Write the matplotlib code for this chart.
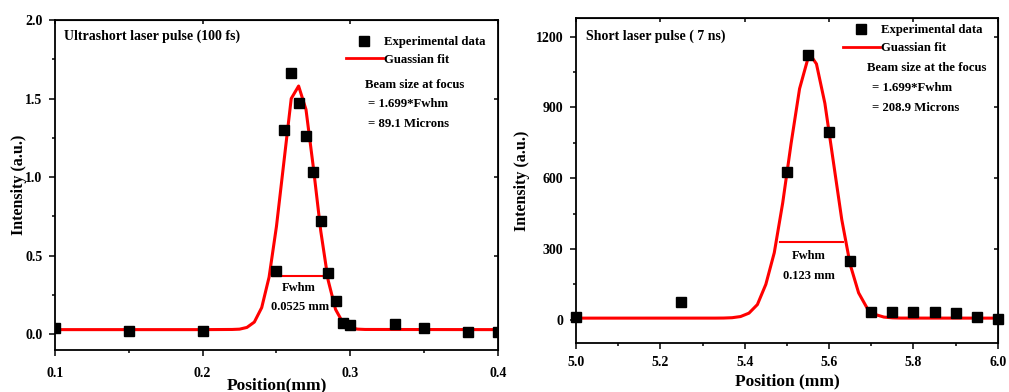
import matplotlib
matplotlib.use("Agg")
import matplotlib.pyplot as plt
from matplotlib.ticker import MultipleLocator
from matplotlib.lines import Line2D

# ---- data: ultrashort pulse (100 fs)
fs_x = [0.1, 0.15, 0.2, 0.25, 0.255, 0.26, 0.265, 0.27, 0.275, 0.28, 0.285,
        0.29, 0.295, 0.3, 0.33, 0.35, 0.38, 0.4]
fs_y = [0.04, 0.02, 0.02, 0.405, 1.30, 1.665, 1.475, 1.26, 1.035, 0.72, 0.39,
        0.21, 0.07, 0.06, 0.066, 0.038, 0.018, 0.013]
fs_fit_x = [0.1, 0.2, 0.22, 0.225, 0.23, 0.235, 0.24, 0.245, 0.25, 0.255, 0.26,
            0.265, 0.27, 0.275, 0.28, 0.285, 0.29, 0.295, 0.3, 0.305, 0.31, 0.4]
fs_fit_y = [0.03, 0.03, 0.031, 0.033, 0.044, 0.078, 0.17, 0.364, 0.687, 1.094,
            1.50, 1.58, 1.43, 1.061, 0.657, 0.344, 0.159, 0.074, 0.042, 0.033,
            0.031, 0.03]
fs_fwhm_x = [0.2478, 0.2811]
fs_fwhm_y = 0.368

# ---- data: short pulse (7 ns)
ns_x = [5.0, 5.25, 5.5, 5.55, 5.6, 5.65, 5.7, 5.75, 5.8, 5.85, 5.9, 5.95, 6.0]
ns_y = [10, 76, 627, 1122, 794, 249, 34, 31, 34, 34, 27, 10, 3]
ns_fit_x = [5.0, 5.33, 5.35, 5.37, 5.39, 5.41, 5.43, 5.45, 5.47, 5.49, 5.51,
            5.53, 5.55, 5.557, 5.57, 5.59, 5.61, 5.63, 5.65, 5.67, 5.69, 5.71,
            5.73, 5.75, 5.77, 6.0]
ns_fit_y = [7, 7.1, 7.4, 8.8, 13.7, 28.1, 64.5, 150, 284, 495, 748, 979, 1108,
            1118, 1084, 917, 671, 425, 234, 114, 50, 22, 11.5, 8.2, 7.2, 7]
ns_fwhm_x = [5.483, 5.632]
ns_fwhm_y = 330

plt.rcParams['font.family'] = ['Liberation Serif', 'DejaVu Serif']
plt.rcParams['font.weight'] = 'bold'
plt.rcParams['axes.labelweight'] = 'bold'

fig = plt.figure(figsize=(10.09, 3.92), dpi=100)
ax1 = fig.add_axes([0.0545, 0.107, 0.439, 0.842])
ax2 = fig.add_axes([0.5709, 0.124, 0.418, 0.831])


def style(ax):
    for s in ax.spines.values():
        s.set_linewidth(1.3)
    ax.tick_params(which='both', direction='out', top=False, right=False,
                   labelsize=10, width=1.1)
    ax.tick_params(which='major', length=4, pad=5)
    ax.tick_params(which='minor', length=2.5)


# left panel
ax1.plot(fs_fit_x, fs_fit_y, color='red', lw=2.2, zorder=2)
ax1.plot(fs_x, fs_y, 's', color='black', ms=7, zorder=3)
ax1.plot(fs_fwhm_x, [fs_fwhm_y, fs_fwhm_y], color='red', lw=1.5)
ax1.set_xlim(0.1, 0.4)
ax1.set_ylim(-0.1, 2.0)
ax1.xaxis.set_major_locator(MultipleLocator(0.1))
ax1.xaxis.set_minor_locator(MultipleLocator(0.05))
ax1.yaxis.set_major_locator(MultipleLocator(0.5))
ax1.yaxis.set_minor_locator(MultipleLocator(0.25))
style(ax1)
ax1.tick_params(axis='x', pad=8)
ax1.set_xlabel('Position(mm)', fontsize=12.5, labelpad=-2)
ax1.set_ylabel('Intensity (a.u.)', fontsize=11.5, labelpad=-1)
ax1.text(0.02, 0.952, 'Ultrashort laser pulse (100 fs)', transform=ax1.transAxes,
         fontsize=10, fontweight='bold', va='center')
ax1.text(0.265, 0.297, 'Fwhm', fontsize=9, ha='center', va='center')
ax1.text(0.2657, 0.176, '0.0525 mm', fontsize=9, ha='center', va='center')
h1 = [Line2D([], [], ls='none', marker='s', color='black', ms=7),
      Line2D([], [], color='red', lw=2)]
ax1.legend(h1, ['Experimental data', 'Guassian fit'], loc='upper left',
           bbox_to_anchor=(0.645, 0.967), frameon=False, fontsize=9.2,
           handlelength=2.9, handletextpad=0.1, labelspacing=0.45,
           borderaxespad=0)
ax1.text(0.812, 0.803, 'Beam size at focus', transform=ax1.transAxes,
         fontsize=9.2, ha='center', va='center')
ax1.text(0.7065, 0.745, '= 1.699*Fwhm', transform=ax1.transAxes,
         fontsize=9.2, va='center')
ax1.text(0.7065, 0.685, '= 89.1 Microns', transform=ax1.transAxes,
         fontsize=9.2, va='center')

# right panel
ax2.plot(ns_fit_x, ns_fit_y, color='red', lw=2.2, zorder=2)
ax2.plot(ns_x, ns_y, 's', color='black', ms=7, zorder=3, clip_on=False)
ax2.plot(ns_fwhm_x, [ns_fwhm_y, ns_fwhm_y], color='red', lw=1.5)
ax2.set_xlim(5.0, 6.0)
ax2.set_ylim(-100, 1280)
ax2.xaxis.set_major_locator(MultipleLocator(0.2))
ax2.xaxis.set_minor_locator(MultipleLocator(0.1))
ax2.yaxis.set_major_locator(MultipleLocator(300))
ax2.yaxis.set_minor_locator(MultipleLocator(150))
style(ax2)
ax2.set_xlabel('Position (mm)', fontsize=12.5, labelpad=3)
ax2.set_ylabel('Intensity (a.u.)', fontsize=11.5, labelpad=4)
ax2.text(0.024, 0.943, 'Short laser pulse ( 7 ns)', transform=ax2.transAxes,
         fontsize=10, fontweight='bold', va='center')
ax2.text(5.552, 269, 'Fwhm', fontsize=9, ha='center', va='center')
ax2.text(5.552, 184, '0.123 mm', fontsize=9, ha='center', va='center')
h2 = [Line2D([], [], ls='none', marker='s', color='black', ms=7),
      Line2D([], [], color='red', lw=2)]
ax2.legend(h2, ['Experimental data', 'Guassian fit'], loc='upper left',
           bbox_to_anchor=(0.62, 0.995), frameon=False, fontsize=9.2,
           handlelength=2.9, handletextpad=0.1, labelspacing=0.45,
           borderaxespad=0)
ax2.text(0.69, 0.844, 'Beam size at the focus', transform=ax2.transAxes,
         fontsize=9.2, va='center')
ax2.text(0.701, 0.783, '= 1.699*Fwhm', transform=ax2.transAxes,
         fontsize=9.2, va='center')
ax2.text(0.701, 0.722, '= 208.9 Microns', transform=ax2.transAxes,
         fontsize=9.2, va='center')

for ax in (ax1, ax2):
    sec_x = ax.secondary_xaxis('top')
    sec_x.set_xticks(ax.get_xticks())
    sec_x.tick_params(direction='in', labeltop=False, length=3, width=1.1)
    sec_y = ax.secondary_yaxis('right')
    sec_y.set_yticks(ax.get_yticks())
    sec_y.tick_params(direction='in', labelright=False, length=3, width=1.1)

fig.savefig('out.png', dpi=100)
